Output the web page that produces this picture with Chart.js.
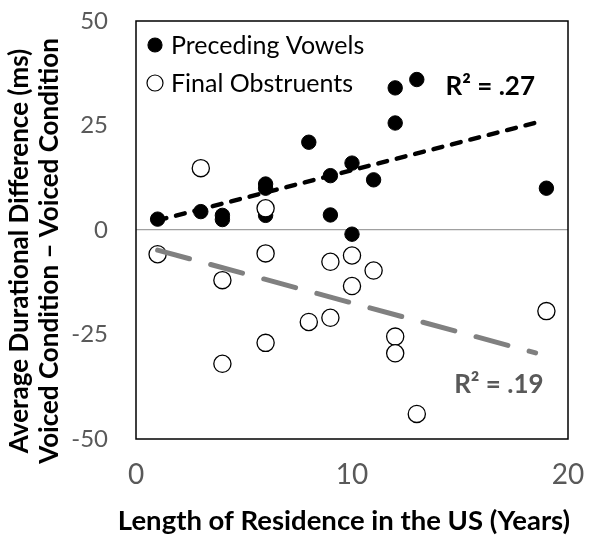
<!DOCTYPE html>
<html>
<head>
<meta charset="utf-8">
<script src="https://cdn.jsdelivr.net/npm/chart.js@4.4.1/dist/chart.umd.min.js"></script>
<style>
    html, body { margin: 0; padding: 0; background: #fff; }
    #wrap { width: 590px; height: 535px; }
</style>
</head>
<body>
<div id="wrap"><canvas id="grafico" width="590" height="535"></canvas></div>
<script>
// Datos
const aniosVocales = [1, 3, 4, 4, 6, 6, 6, 8, 9, 9, 10, 10, 11, 12, 12, 13, 19];
const difVocales = [2.6, 4.4, 3.5, 2.5, 11, 10, 3.5, 21, 13, 3.6, 16, -1, 12, 34, 25.6, 36, 10];

const aniosObstru = [1, 3, 4, 4, 6, 6, 6, 8, 9, 9, 10, 10, 11, 12, 12, 13, 19];
const difObstru = [-5.8, 14.8, -12, -32, 5.2, -5.6, -27, -22, -7.6, -21, -6.1, -13.4, -9.7, -25.5, -29.5, -44, -19.4];

// Líneas de tendencia (extremos)
const tendVocalesX = [1, 18.75];
const tendVocalesY = [2.3, 26];
const tendObstruX = [1, 18.5];
const tendObstruY = [-4.8, -29.4];

const ticksY = [-50, -25, 0, 25, 50];
const ticksX = [0, 10, 20];

const nombresSeries = ['Preceding Vowels', 'Final Obstruents'];
const textosR2 = ['R\u00B2 = .27', 'R\u00B2 = .19'];
const tituloX = 'Length of Residence in the US (Years)';
const tituloY = ['Average Durational Difference (ms)', 'Voiced Condition \u2013 Voiced Condition'];

const FUENTE = 'Lato, "Open Sans", sans-serif';

function puntos(xs, ys) {
    return xs.map((x, i) => ({ x: x, y: ys[i] }));
}

// Marco, leyenda, R² y títulos de ejes
const decoracion = {
    id: 'decoracion',
    afterDatasetsDraw(chart) {
        const { ctx, chartArea, scales } = chart;
        ctx.save();
        // marco del área
        ctx.strokeStyle = '#000';
        ctx.lineWidth = 1.5;
        ctx.strokeRect(chartArea.left, chartArea.top, chartArea.right - chartArea.left, chartArea.bottom - chartArea.top);

        // leyenda
        ctx.font = '25px ' + FUENTE;
        ctx.textBaseline = 'middle';
        ctx.textAlign = 'left';
        const filas = [45, 83];
        filas.forEach((yy, i) => {
            ctx.beginPath();
            ctx.arc(155, yy, i === 0 ? 7 : 8, 0, Math.PI * 2);
            ctx.fillStyle = i === 0 ? '#000' : '#fff';
            ctx.fill();
            ctx.lineWidth = 1.2;
            ctx.strokeStyle = '#000';
            ctx.stroke();
            ctx.fillStyle = '#000';
            ctx.fillText(nombresSeries[i], 171, yy + 1);
        });

        // valores R²
        const posR2 = [{ x: 16.4, y: 34.2, color: '#000' }, { x: 16.8, y: -37.1, color: '#595959' }];
        ctx.font = 'bold 26px ' + FUENTE;
        ctx.textAlign = 'center';
        posR2.forEach((p, i) => {
            ctx.fillStyle = p.color;
            ctx.fillText(textosR2[i], scales.x.getPixelForValue(p.x), scales.y.getPixelForValue(p.y));
        });
        ctx.restore();
    },
    afterDraw(chart) {
        const { ctx, chartArea } = chart;
        ctx.save();
        ctx.fillStyle = '#000';
        ctx.font = 'bold 27.5px ' + FUENTE;
        ctx.textAlign = 'center';
        ctx.textBaseline = 'alphabetic';
        ctx.fillText(tituloX, (chartArea.left + chartArea.right) / 2 - 8, 530);

        ctx.translate(0, 251);
        ctx.rotate(-Math.PI / 2);
        ctx.font = 'bold 26px ' + FUENTE;
        ctx.textBaseline = 'middle';
        ctx.fillText(tituloY[0], 0, 20);
        ctx.fillText(tituloY[1], 0, 50);
        ctx.restore();
    }
};

const ctx = document.getElementById('grafico').getContext('2d');

new Chart(ctx, {
    type: 'scatter',
    data: {
        datasets: [
            {
                label: nombresSeries[0],
                data: puntos(aniosVocales, difVocales),
                backgroundColor: '#000',
                borderColor: '#000',
                borderWidth: 1,
                pointRadius: 7.2,
                order: 4
            },
            {
                label: nombresSeries[1],
                data: puntos(aniosObstru, difObstru),
                backgroundColor: '#fff',
                borderColor: '#000',
                borderWidth: 1.3,
                pointRadius: 8.6,
                order: 3
            },
            {
                label: 'Tendencia vocales',
                data: puntos(tendVocalesX, tendVocalesY),
                showLine: true,
                pointRadius: 0,
                borderColor: '#000',
                borderWidth: 4.5,
                borderDash: [9, 10],
                borderCapStyle: 'round',
                order: 2
            },
            {
                label: 'Tendencia obstruyentes',
                data: puntos(tendObstruX, tendObstruY),
                showLine: true,
                pointRadius: 0,
                borderColor: '#808080',
                borderWidth: 5,
                borderDash: [33, 22],
                borderCapStyle: 'round',
                order: 1
            }
        ]
    },
    options: {
        responsive: false,
        animation: false,
        layout: { padding: { top: 21, right: 22, left: 0, bottom: 0 } },
        plugins: {
            legend: { display: false },
            tooltip: { enabled: false }
        },
        scales: {
            x: {
                type: 'linear',
                min: 0,
                max: 20,
                afterBuildTicks: s => { s.ticks = ticksX.map(v => ({ value: v })); },
                afterFit: s => {
                    s.height = 96;
                    s.paddingLeft = 0;
                    s.paddingRight = 0;
                },
                grid: { display: false, drawTicks: false },
                border: { display: false },
                ticks: {
                    color: '#595959',
                    font: { family: FUENTE, size: 28 },
                    padding: 19,
                    maxRotation: 0
                }
            },
            y: {
                type: 'linear',
                min: -50,
                max: 50,
                afterBuildTicks: s => { s.ticks = ticksY.map(v => ({ value: v })); },
                afterFit: s => {
                    s.width = 136;
                    s.paddingTop = 0;
                    s.paddingBottom = 0;
                },
                grid: {
                    drawTicks: false,
                    color: c => (c.tick && c.tick.value === 0) ? '#a0a0a0' : 'rgba(0,0,0,0)',
                    lineWidth: 1.2
                },
                border: { display: false },
                ticks: {
                    color: '#595959',
                    font: { family: FUENTE, size: 24 },
                    padding: 28
                }
            }
        }
    },
    plugins: [decoracion]
});
</script>
</body>
</html>
